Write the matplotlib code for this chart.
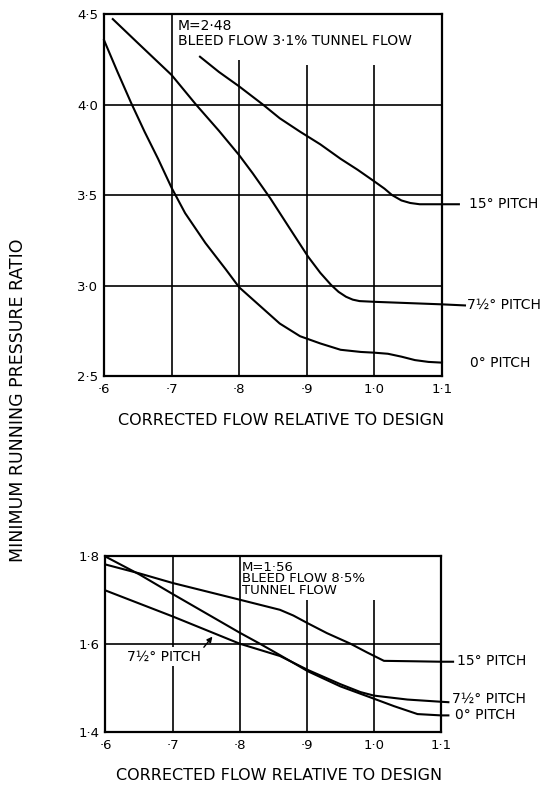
import numpy as np
import matplotlib
matplotlib.use('Agg')
import matplotlib.pyplot as plt

plt.rcParams['font.family'] = ['DejaVu Sans']

# ---- top panel: M = 2.48, bleed 3.1% ----
top_x0 = [0.600, 0.620, 0.640, 0.660, 0.680, 0.700, 0.720, 0.750, 0.780, 0.800, 0.830,
          0.860, 0.890, 0.920, 0.950, 0.980, 1.000, 1.020, 1.040, 1.060, 1.080, 1.100]
top_y0 = [4.356, 4.18, 4.01, 3.85, 3.70, 3.54, 3.40, 3.235, 3.09, 2.99, 2.89,
          2.79, 2.72, 2.68, 2.645, 2.633, 2.629, 2.623, 2.607, 2.588, 2.578, 2.574]
top_x7 = [0.613, 0.650, 0.700, 0.736, 0.770, 0.800, 0.820, 0.846, 0.874, 0.902, 0.920,
          0.936, 0.947, 0.958, 0.968, 0.978, 1.000, 1.050, 1.100, 1.134]
top_y7 = [4.472, 4.34, 4.163, 4.00, 3.855, 3.72, 3.62, 3.482, 3.32, 3.159, 3.07,
          3.003, 2.965, 2.938, 2.922, 2.914, 2.91, 2.903, 2.896, 2.89]
top_x15 = [0.742, 0.770, 0.800, 0.835, 0.860, 0.890, 0.920, 0.950, 0.975, 1.000, 1.015,
           1.026, 1.040, 1.053, 1.067, 1.100, 1.125]
top_y15 = [4.264, 4.18, 4.10, 4.00, 3.924, 3.85, 3.78, 3.70, 3.64, 3.575, 3.535,
           3.50, 3.47, 3.456, 3.449, 3.449, 3.449]

# ---- bottom panel: M = 1.56, bleed 8.5% ----
bot_x0 = [0.600, 0.651, 0.700, 0.750, 0.800, 0.830, 0.860, 0.902, 0.950, 1.000, 1.030,
          1.065, 1.100, 1.111]
bot_y0 = [1.798, 1.757, 1.713, 1.669, 1.625, 1.600, 1.574, 1.537, 1.503, 1.475, 1.458,
          1.440, 1.437, 1.437]
bot_x7 = [0.600, 0.700, 0.800, 0.860, 0.902, 0.950, 0.980, 1.000, 1.050, 1.100, 1.111]
bot_y7 = [1.721, 1.662, 1.600, 1.572, 1.540, 1.508, 1.490, 1.482, 1.473, 1.468, 1.467]
bot_x15 = [0.600, 0.650, 0.700, 0.750, 0.800, 0.860, 0.880, 0.902, 0.930, 0.965, 0.990,
           1.015, 1.060, 1.100, 1.118]
bot_y15 = [1.780, 1.760, 1.738, 1.719, 1.700, 1.677, 1.664, 1.646, 1.624, 1.600, 1.580,
           1.561, 1.560, 1.559, 1.559]

x_ticks = [0.6, 0.7, 0.8, 0.9, 1.0, 1.1]
x_tick_labels = ['·6', '·7', '·8', '·9', '1·0', '1·1']
top_y_ticks = [2.5, 3.0, 3.5, 4.0, 4.5]
top_y_labels = ['2·5', '3·0', '3·5', '4·0', '4·5']
bot_y_ticks = [1.4, 1.6, 1.8]
bot_y_labels = ['1·4', '1·6', '1·8']

lw_curve = 1.5
lw_grid = 1.2
fs_note = 10
fs_label = 11.5

fig = plt.figure(figsize=(5.52, 7.87), dpi=100)
ax1 = fig.add_axes([0.1884, 0.5222, 0.6123, 0.4600])
ax2 = fig.add_axes([0.1911, 0.0703, 0.6078, 0.2236])


def style_axes(ax, yticks, ylabels, ylim):
    ax.set_xlim(0.6, 1.1)
    ax.set_ylim(*ylim)
    ax.set_xticks(x_ticks)
    ax.set_xticklabels(x_tick_labels)
    ax.set_yticks(yticks)
    ax.set_yticklabels(ylabels)
    ax.tick_params(length=0, labelsize=9.5)
    ax.tick_params(axis='x', pad=5)
    ax.tick_params(axis='y', pad=4)
    for s in ax.spines.values():
        s.set_linewidth(1.6)


# top panel
style_axes(ax1, top_y_ticks, top_y_labels, (2.5, 4.5))
ax1.hlines([3.0, 3.5, 4.0], 0.6, 1.1, color='k', lw=lw_grid, zorder=1)
ax1.vlines([0.7], 2.5, 4.5, color='k', lw=lw_grid, zorder=1)
ax1.vlines([0.8], 2.5, 4.246, color='k', lw=lw_grid, zorder=1)
ax1.vlines([0.9, 1.0], 2.5, 4.22, color='k', lw=lw_grid, zorder=1)
for xs, ys in [(top_x0, top_y0), (top_x7, top_y7), (top_x15, top_y15)]:
    ax1.plot(xs, ys, color='k', lw=lw_curve, clip_on=False, zorder=3)
ax1.text(0.7095, 4.47, 'M=2·48\nBLEED FLOW 3·1% TUNNEL FLOW', fontsize=fs_note,
         va='top', ha='left', linespacing=1.05)
ax1.text(1.140, 3.449, '15° PITCH', fontsize=fs_note, va='center', ha='left', clip_on=False)
ax1.text(1.137, 2.895, '7½° PITCH', fontsize=fs_note, va='center', ha='left', clip_on=False)
ax1.text(1.141, 2.573, '0° PITCH', fontsize=fs_note, va='center', ha='left', clip_on=False)

# bottom panel
style_axes(ax2, bot_y_ticks, bot_y_labels, (1.4, 1.8))
ax2.hlines([1.6], 0.6, 1.1, color='k', lw=lw_grid, zorder=1)
ax2.vlines([0.7, 0.8], 1.4, 1.8, color='k', lw=lw_grid, zorder=1)
ax2.vlines([0.9, 1.0], 1.4, 1.70, color='k', lw=lw_grid, zorder=1)
for xs, ys in [(bot_x0, bot_y0), (bot_x7, bot_y7), (bot_x15, bot_y15)]:
    ax2.plot(xs, ys, color='k', lw=lw_curve, clip_on=False, zorder=3)
ax2.text(0.803, 1.788, 'M=1·56\nBLEED FLOW 8·5%\nTUNNEL FLOW', fontsize=9.5,
         va='top', ha='left', linespacing=0.85)
ax2.text(0.632, 1.571, '7½° PITCH', fontsize=fs_note, va='center', ha='left', zorder=4,
         bbox=dict(facecolor='white', edgecolor='none', pad=1.5))
ax2.annotate('', xy=(0.762, 1.621), xytext=(0.744, 1.587),
             arrowprops=dict(arrowstyle='-|>', color='k', lw=1.0, mutation_scale=8), zorder=5)
ax2.text(1.1246, 1.560, '15° PITCH', fontsize=fs_note, va='center', ha='left', clip_on=False)
ax2.text(1.117, 1.474, '7½° PITCH', fontsize=fs_note, va='center', ha='left', clip_on=False)
ax2.text(1.1216, 1.437, '0° PITCH', fontsize=fs_note, va='center', ha='left', clip_on=False)

fig.text(0.509, 0.466, 'CORRECTED FLOW RELATIVE TO DESIGN', fontsize=fs_label, ha='center', va='center')
fig.text(0.505, 0.014, 'CORRECTED FLOW RELATIVE TO DESIGN', fontsize=fs_label, ha='center', va='center')
fig.text(0.033, 0.492, 'MINIMUM RUNNING PRESSURE RATIO', fontsize=12.5, ha='center', va='center',
         rotation=90)

fig.savefig('out.png', dpi=100)
